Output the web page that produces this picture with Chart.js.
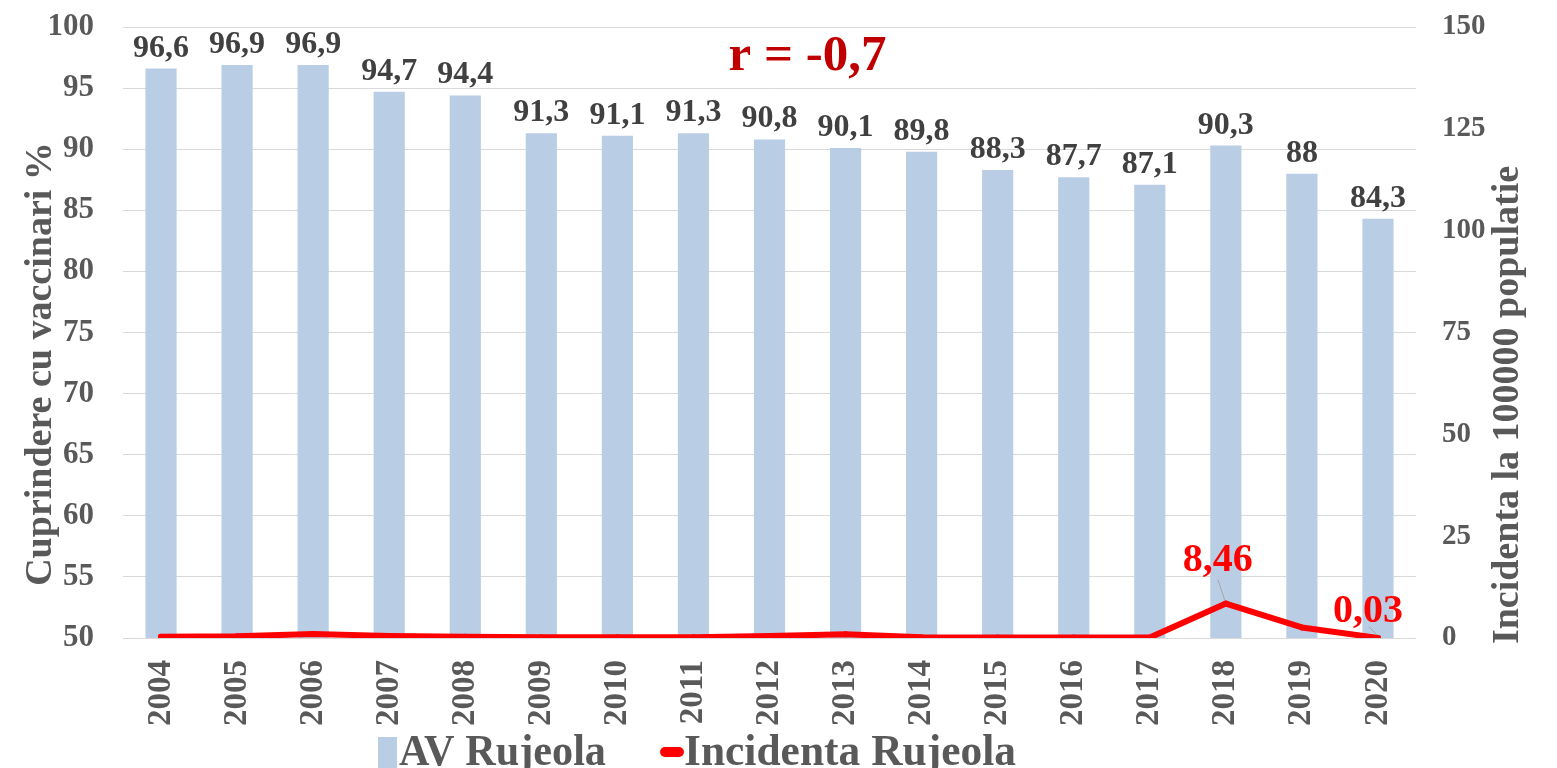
<!DOCTYPE html>
<html>
<head>
<meta charset="utf-8">
<script src="https://cdn.jsdelivr.net/npm/chart.js@4.4.1/dist/chart.umd.min.js"></script>
<style>
  html, body { margin: 0; padding: 0; background: #fff; overflow: hidden; }
  #wrap { width: 1557px; height: 768px; }
</style>
</head>
<body>
<div id="wrap"><canvas id="chart" width="1557" height="768"></canvas></div>
<script>
// Data
const years = ['2004', '2005', '2006', '2007', '2008', '2009', '2010', '2011', '2012',
               '2013', '2014', '2015', '2016', '2017', '2018', '2019', '2020'];
const coverage = [96.6, 96.9, 96.9, 94.7, 94.4, 91.3, 91.1, 91.3, 90.8,
                  90.1, 89.8, 88.3, 87.7, 87.1, 90.3, 88, 84.3];
const incidence = [0.3, 0.4, 1.0, 0.5, 0.3, 0.2, 0.2, 0.2, 0.5,
                   0.9, 0.2, 0.1, 0.1, 0.1, 8.46, 2.6, 0.03];
const incidenceShown = [14, 16]; // only these points carry a label
const leftTicks = [50, 100, 5];   // min, max, step
const rightTicks = [0, 150, 25];
const corrText = 'r = -0,7';
const leftTitle = 'Cuprindere cu vaccinari %';
const rightTitle = 'Incidenta la 100000 populatie';
const seriesNames = ['AV Rujeola', 'Incidenta Rujeola'];

const barColor = '#B9CDE5';
const lineColor = '#FF0000';
const grey = '#595959';

function fmt(v) {
  return String(v).replace('.', ',');
}

// text squeezed/stretched to a given width
function fitText(ctx, text, x, y, width) {
  const w = ctx.measureText(text).width;
  ctx.save();
  ctx.translate(x, y);
  ctx.scale(width / w, 1);
  ctx.fillText(text, 0, 0);
  ctx.restore();
}

// labels, titles, legend
const extrasPlugin = {
  id: 'extras',
  afterDatasetsDraw(chart) {
    const ctx = chart.ctx;
    const x = chart.scales.x;
    const yL = chart.scales.y;
    ctx.save();
    ctx.textAlign = 'center';
    ctx.textBaseline = 'alphabetic';

    // bar labels
    ctx.font = 'bold 32px "Liberation Serif"';
    ctx.fillStyle = '#404040';
    chart.getDatasetMeta(0).data.forEach((bar, i) => {
      ctx.fillText(fmt(coverage[i]), bar.x, bar.y - 12);
    });

    // line labels with leader lines
    const pts = chart.getDatasetMeta(1).data;
    ctx.font = 'bold 40px "Liberation Serif"';
    incidenceShown.forEach(i => {
      const p = pts[i];
      ctx.strokeStyle = '#A6A6A6';
      ctx.lineWidth = 1;
      ctx.beginPath();
      if (i === 14) {
        ctx.moveTo(p.x - 8, p.y - 24); ctx.lineTo(p.x - 1, p.y - 3);
      } else {
        ctx.moveTo(p.x - 9, p.y - 11); ctx.lineTo(p.x - 1, p.y - 3);
      }
      ctx.stroke();
      ctx.fillStyle = lineColor;
      if (i === 14) ctx.fillText(fmt(incidence[i]), p.x - 8, p.y - 33);
      else ctx.fillText(fmt(incidence[i]), p.x - 10, p.y - 16);
    });

    // correlation text
    ctx.font = 'bold 51px "Liberation Serif"';
    ctx.fillStyle = '#C00000';
    const cx = (x.getPixelForValue(8) + x.getPixelForValue(9)) / 2;
    ctx.fillText(corrText, cx, yL.getPixelForValue(96.5));

    // axis titles, both reading upwards
    ctx.fillStyle = grey;
    ctx.font = 'bold 38px "Liberation Serif"';
    ctx.save();
    ctx.translate(51, 364);
    ctx.rotate(-Math.PI / 2);
    ctx.fillText(leftTitle, 0, 0);
    ctx.restore();
    ctx.save();
    ctx.translate(1518, 405);
    ctx.rotate(-Math.PI / 2);
    ctx.fillText(rightTitle, 0, 0);
    ctx.restore();

    // legend
    ctx.fillStyle = barColor;
    ctx.fillRect(378, 737, 19, 31);
    ctx.strokeStyle = lineColor;
    ctx.lineWidth = 10;
    ctx.lineCap = 'round';
    ctx.beginPath();
    ctx.moveTo(665, 752); ctx.lineTo(679, 752);
    ctx.stroke();
    ctx.fillStyle = grey;
    ctx.textAlign = 'left';
    ctx.font = 'bold 44px "Liberation Serif"';
    fitText(ctx, seriesNames[0], 399, 765, 207);
    fitText(ctx, seriesNames[1], 684, 765, 332);
    ctx.restore();
  }
};

function fixWidth(w) {
  return scale => {
    scale.width = w;
    scale.paddingTop = 0;
    scale.paddingBottom = 0;
  };
}

new Chart(document.getElementById('chart'), {
  data: {
    labels: years,
    datasets: [
      {
        type: 'bar',
        label: seriesNames[0],
        data: coverage,
        backgroundColor: barColor,
        yAxisID: 'y',
        categoryPercentage: 0.82,
        barPercentage: 0.5,
        order: 2
      },
      {
        type: 'line',
        label: seriesNames[1],
        data: incidence,
        borderColor: lineColor,
        backgroundColor: lineColor,
        borderWidth: 6,
        pointRadius: 3,
        pointBackgroundColor: lineColor,
        pointBorderWidth: 0,
        borderJoinStyle: 'round',
        borderCapStyle: 'round',
        tension: 0,
        yAxisID: 'y1',
        order: 1
      }
    ]
  },
  options: {
    responsive: false,
    animation: false,
    layout: { padding: { left: 0, right: 0, top: 27, bottom: 0 } },
    scales: {
      x: {
        grid: { display: false, drawTicks: false },
        border: { display: false },
        ticks: {
          minRotation: 90, maxRotation: 90,
          padding: 22,
          color: grey,
          font: { family: 'Liberation Serif', weight: 'bold', size: 33 }
        },
        afterFit(scale) {
          scale.height = 130;
          scale.paddingLeft = 0;
          scale.paddingRight = 0;
        }
      },
      y: {
        position: 'left',
        min: leftTicks[0], max: leftTicks[1],
        ticks: {
          stepSize: leftTicks[2],
          padding: 29,
          color: grey,
          font: { family: 'Liberation Serif', weight: 'bold', size: 31 }
        },
        grid: { color: '#D9D9D9', lineWidth: 1, drawTicks: false },
        border: { display: false },
        afterFit: fixWidth(123)
      },
      y1: {
        position: 'right',
        min: rightTicks[0], max: rightTicks[1],
        ticks: {
          stepSize: rightTicks[2],
          padding: 26,
          color: grey,
          font: { family: 'Liberation Serif', weight: 'bold', size: 29 }
        },
        grid: { display: false, drawTicks: false },
        border: { display: false },
        afterFit: fixWidth(141)
      }
    },
    plugins: {
      tooltip: { enabled: false },
      legend: { display: false }
    }
  },
  plugins: [extrasPlugin]
});
</script>
</body>
</html>
